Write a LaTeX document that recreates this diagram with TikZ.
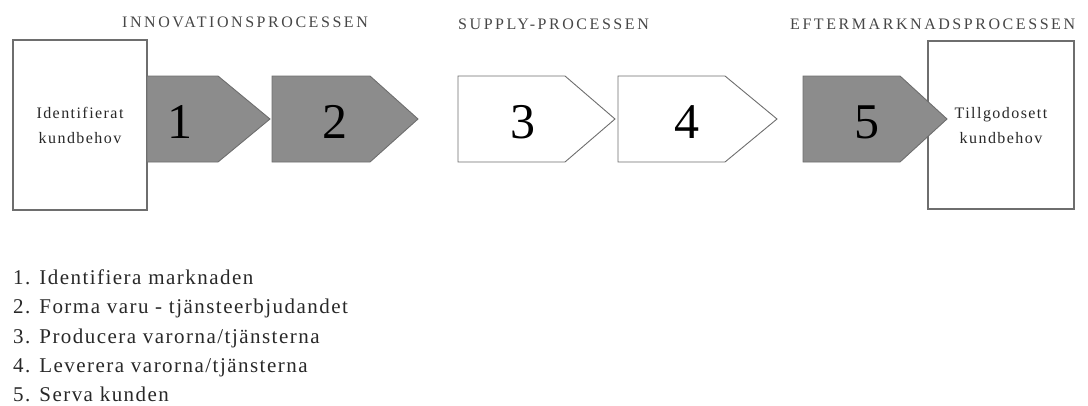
\documentclass[tikz,border=0pt]{standalone}
\usepackage{fontspec}
\setmainfont{Liberation Serif}
\definecolor{arrowgray}{RGB}{140,140,140}
\definecolor{edgegray}{RGB}{110,110,110}
\definecolor{titlegray}{RGB}{70,70,70}
\definecolor{listgray}{RGB}{40,40,40}
\tikzset{
  endbox/.style={draw=edgegray, line width=1.3pt, fill=white},
  grayarrow/.style={draw=edgegray, line width=0.9pt, fill=arrowgray},
  whitearrow/.style={draw=edgegray, line width=0.9pt, fill=white},
  numtext/.style={font=\fontsize{50}{50}\selectfont, inner sep=0pt},
  boxtext/.style={font=\fontsize{16}{25}\selectfont\addfontfeatures{LetterSpace=9}, text=listgray, align=center, inner sep=0pt},
  titletext/.style={font=\fontsize{16}{17}\selectfont\addfontfeatures{LetterSpace=16}, text=titlegray, inner sep=0pt, anchor=base west},
  listtext/.style={font=\fontsize{21}{22}\selectfont\addfontfeatures{LetterSpace=7}, text=listgray, anchor=base west, inner sep=0pt}
}
\newcommand{\procarrow}[4]{% style, left, flat end, tip
  \draw[#1] (#2,76) -- (#3,76) -- (#4,119) -- (#3,162) -- (#2,162) -- cycle;
}
\begin{document}
\begin{tikzpicture}[x=1pt,y=-1pt]
\useasboundingbox (0,0) rectangle (1088,405);
% start box
\draw[endbox] (13,40) rectangle (147,210);
\node[boxtext] (start) at (80,125) {Identifierat\\kundbehov};
% end box
\draw[endbox] (928,41) rectangle (1074,209);
% arrows
\procarrow{grayarrow}{147}{218}{270}
\procarrow{grayarrow}{272}{370}{418}
\procarrow{whitearrow}{458}{565}{615}
\procarrow{whitearrow}{618}{725}{777}
\procarrow{grayarrow}{803}{900}{947}
\node[boxtext] (end) at (1001,126) {Tillgodosett\\kundbehov};
% numbers
\node[numtext] (n1) at (180,122) {1};
\node[numtext] (n2) at (335,122) {2};
\node[numtext] (n3) at (523,122) {3};
\node[numtext] (n4) at (687,122) {4};
\node[numtext] (n5) at (867,122) {5};
% titles
\node[titletext] (t1) at (122,27) {INNOVATIONSPROCESSEN};
\node[titletext] (t2) at (458,29) {SUPPLY-PROCESSEN};
\node[titletext] (t3) at (790,29) {EFTERMARKNADSPROCESSEN};
% list
\node[listtext] (l1) at (13,284) {1. Identifiera marknaden};
\node[listtext] (l2) at (13,313) {2. Forma varu - tjänsteerbjudandet};
\node[listtext] (l3) at (13,343) {3. Producera varorna/tjänsterna};
\node[listtext] (l4) at (13,372) {4. Leverera varorna/tjänsterna};
\node[listtext] (l5) at (13,401) {5. Serva kunden};
\end{tikzpicture}
\end{document}
